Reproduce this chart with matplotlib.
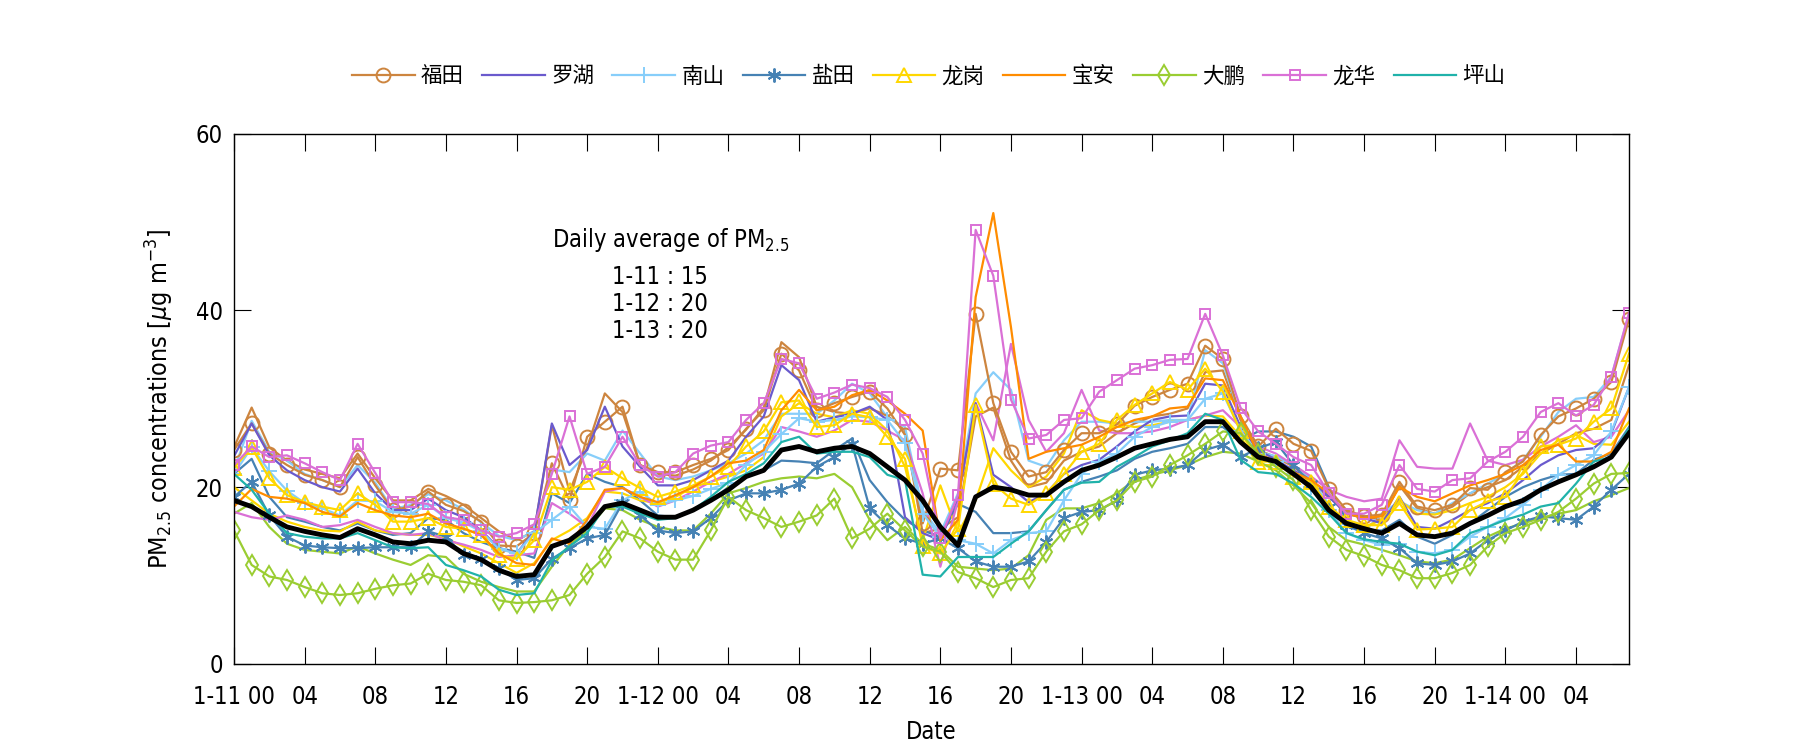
import numpy as np
import matplotlib
matplotlib.use('Agg')
import matplotlib.pyplot as plt

plt.rcParams['font.family'] = ['DejaVu Sans', 'Noto Sans CJK SC']
plt.rcParams['font.stretch'] = 'condensed'
plt.rcParams['mathtext.fontset'] = 'custom'
plt.rcParams['mathtext.rm'] = 'DejaVu Sans:stretch=condensed'
plt.rcParams['mathtext.it'] = 'DejaVu Sans:italic:stretch=condensed'
plt.rcParams['font.size'] = 16

hours = np.arange(80)
tick_pos = np.arange(0, 80, 4)
tick_labels = ['1-11 00', '04', '08', '12', '16', '20',
               '1-12 00', '04', '08', '12', '16', '20',
               '1-13 00', '04', '08', '12', '16', '20',
               '1-14 00', '04']

names = ['福田', '罗湖', '南山', '盐田', '龙岗', '宝安', '大鹏', '龙华', '坪山']

# station series (legend entries)
futian = [24.2, 27.2, 23.8, 22.5, 21.4, 20.8, 20.0, 23.4, 20.2, 17.4, 17.8, 19.5, 18.0, 17.3, 16.1, 13.4, 13.3,
          14.8, 22.7, 18.5, 25.7, 27.4, 29.1, 22.5, 21.7, 21.7, 22.5, 23.2, 24.2, 26.6, 28.7, 35.1, 33.2,
          28.7, 29.5, 30.2, 30.8, 28.9, 25.9, 15.9, 22.1, 21.9, 39.6, 29.5, 24.0, 21.2, 21.7, 24.2, 26.1,
          26.1, 27.1, 29.2, 30.2, 31.0, 31.7, 36.0, 34.5, 28.0, 24.6, 26.6, 24.9, 24.1, 19.8, 17.4, 16.7,
          16.9, 20.6, 17.8, 17.4, 18.0, 19.9, 19.7, 21.7, 22.9, 25.9, 28.0, 28.9, 30.0, 31.9, 39.0]
luohu = [23.5, 27.2, 23.6, 21.9, 20.8, 20.0, 19.5, 22.1, 19.3, 17.4, 17.4, 18.7, 17.4, 16.6, 15.1, 13.1, 12.5,
         15.0, 27.2, 22.5, 24.2, 29.1, 24.6, 22.3, 20.2, 20.2, 20.8, 21.9, 23.0, 25.7, 28.0, 33.8, 32.1,
         27.4, 27.9, 28.3, 29.1, 27.6, 16.6, 14.8, 14.0, 18.9, 29.5, 21.4, 20.0, 18.3, 19.3, 21.5, 22.5,
         23.1, 24.6, 26.3, 27.6, 28.0, 28.1, 31.7, 31.5, 26.8, 24.2, 23.1, 21.9, 20.8, 18.9, 17.0, 16.5,
         15.9, 18.9, 15.5, 15.3, 16.3, 17.4, 18.2, 19.3, 20.8, 22.5, 23.6, 24.2, 24.4, 26.1, 31.3]
nanshan = [21.5, 24.5, 21.8, 19.6, 18.2, 17.6, 16.8, 18.5, 18.4, 17.2, 17.0, 18.0, 16.5, 16.0, 15.0, 13.0, 12.5,
           14.8, 16.3, 17.8, 15.5, 15.3, 18.5, 19.5, 18.0, 18.5, 19.0, 19.8, 20.5, 22.5, 24.0, 26.0, 27.8,
           27.4, 27.6, 28.0, 27.9, 27.6, 25.0, 17.0, 14.4, 14.0, 13.6, 12.5, 14.0, 14.8, 15.0, 18.5, 21.5,
           22.9, 23.8, 25.7, 26.8, 27.4, 27.6, 30.0, 30.6, 26.4, 23.8, 22.9, 21.5, 20.0, 17.4, 14.8, 14.0,
           13.5, 13.6, 12.7, 12.5, 12.9, 14.4, 15.5, 16.5, 18.0, 19.7, 21.4, 22.5, 23.6, 26.3, 31.3]
yantian = [18.9, 20.6, 16.8, 14.4, 13.4, 13.2, 13.1, 13.1, 13.2, 13.2, 13.2, 15.0, 14.4, 12.3, 11.9, 10.8, 9.5,
           9.7, 11.9, 13.1, 14.2, 14.6, 18.2, 16.8, 15.1, 14.8, 15.0, 16.5, 18.5, 19.3, 19.3, 19.7, 20.4,
           22.3, 23.4, 24.9, 17.6, 15.7, 14.2, 13.6, 14.2, 13.1, 11.6, 11.0, 11.0, 11.6, 13.8, 16.5, 17.2,
           17.4, 18.5, 21.4, 21.9, 22.1, 22.5, 24.2, 24.8, 23.4, 24.4, 25.1, 22.5, 20.4, 17.8, 15.7, 14.8,
           14.2, 13.1, 11.4, 11.2, 11.6, 12.5, 14.0, 15.1, 16.1, 16.7, 16.5, 16.3, 17.8, 19.7, 21.5]
longgang = [22.2, 24.5, 21.0, 19.1, 18.3, 17.8, 17.4, 19.3, 18.0, 16.1, 16.1, 16.5, 15.5, 15.3, 14.6, 12.3, 11.9,
            14.0, 20.0, 19.7, 20.6, 22.3, 21.0, 19.9, 18.9, 19.5, 20.2, 21.2, 22.3, 24.6, 26.3, 29.6, 29.8,
            26.8, 27.0, 28.3, 27.9, 25.7, 23.2, 13.3, 12.5, 15.3, 29.3, 20.4, 18.7, 18.0, 19.3, 21.5, 24.0,
            24.9, 27.6, 29.3, 30.6, 31.9, 31.0, 33.4, 30.8, 26.3, 22.9, 22.9, 21.2, 20.6, 17.8, 16.3, 15.7,
            15.7, 18.2, 15.2, 15.3, 15.5, 17.4, 18.4, 18.9, 21.7, 24.6, 24.8, 25.5, 27.4, 28.9, 35.1]
baoan = [17.8, 19.8, 18.9, 18.7, 18.2, 17.2, 16.7, 18.2, 17.4, 16.8, 16.6, 17.0, 15.9, 15.3, 14.6, 12.5, 11.4,
         11.2, 14.2, 13.6, 16.3, 19.7, 19.9, 18.9, 18.3, 19.1, 20.0, 21.2, 22.7, 23.0, 24.2, 28.7, 31.0,
         28.7, 29.1, 30.4, 31.0, 29.8, 28.3, 26.4, 14.0, 16.3, 41.5, 51.0, 38.1, 23.2, 24.0, 24.4, 24.8,
         25.7, 26.8, 27.6, 28.0, 28.9, 29.1, 32.3, 32.1, 28.0, 23.8, 22.9, 21.7, 20.8, 19.3, 17.0, 16.5,
         16.7, 20.0, 18.9, 18.4, 19.3, 20.2, 20.8, 21.5, 22.5, 24.2, 24.8, 22.9, 22.9, 24.0, 28.9]
dapeng = [15.1, 11.2, 9.9, 9.5, 8.7, 8.0, 7.8, 8.0, 8.5, 8.9, 9.1, 10.2, 9.5, 9.3, 8.9, 7.2, 6.9,
          7.0, 7.2, 7.8, 10.2, 12.1, 15.0, 14.2, 12.7, 11.8, 11.8, 15.1, 18.9, 17.4, 16.5, 15.5, 16.1,
          16.8, 18.7, 14.2, 15.3, 17.0, 15.1, 13.3, 12.7, 10.4, 9.7, 8.7, 9.5, 9.7, 12.7, 15.0, 15.8,
          17.4, 18.5, 20.6, 21.2, 22.5, 23.6, 24.9, 26.3, 26.1, 23.8, 22.3, 20.8, 17.4, 14.4, 12.9, 12.2,
          11.2, 10.6, 9.7, 9.7, 10.3, 11.2, 13.3, 14.8, 15.5, 16.3, 17.2, 18.7, 20.4, 21.5, 21.6]
longhua = [22.5, 24.6, 23.4, 23.6, 22.7, 21.7, 20.8, 24.9, 21.6, 18.3, 18.3, 18.1, 16.6, 16.3, 15.1, 14.4, 14.8,
           15.8, 21.5, 28.0, 21.5, 22.3, 25.7, 22.5, 21.2, 21.7, 23.8, 24.7, 25.1, 27.6, 29.5, 34.5, 34.0,
           30.0, 30.7, 31.6, 31.2, 30.2, 27.6, 23.8, 14.2, 19.1, 49.1, 43.9, 29.9, 25.5, 25.9, 27.6, 27.8,
           30.8, 32.1, 33.4, 33.8, 34.4, 34.5, 39.6, 34.9, 29.0, 26.3, 24.9, 23.4, 22.5, 19.3, 17.0, 17.0,
           18.0, 22.5, 19.8, 19.5, 20.8, 21.0, 22.9, 24.0, 25.7, 28.5, 29.5, 28.1, 29.3, 32.5, 39.7]
pingshan = [21.5, 19.7, 17.0, 14.8, 14.4, 14.2, 14.2, 14.8, 14.0, 13.2, 13.1, 13.2, 11.2, 10.6, 9.9, 8.4, 7.8,
            8.0, 11.7, 13.3, 14.8, 17.8, 17.8, 17.0, 16.3, 16.5, 17.4, 18.9, 20.6, 21.5, 22.7, 25.1, 25.7,
            23.8, 24.0, 24.0, 23.4, 21.4, 20.8, 10.1, 9.9, 12.1, 12.1, 12.1, 13.6, 15.0, 17.4, 19.7, 20.5,
            20.6, 22.3, 23.4, 24.6, 25.3, 26.1, 28.3, 27.6, 23.1, 21.7, 21.5, 20.4, 18.9, 17.0, 14.8, 14.1,
            13.8, 13.6, 12.7, 12.3, 12.9, 14.8, 15.5, 16.3, 16.9, 17.8, 18.2, 20.4, 22.9, 23.4, 26.6]

# second (unmarked) lines
futian_2 = [24.5, 29.0, 24.5, 23.0, 22.0, 21.5, 21.0, 23.8, 21.0, 18.5, 18.5, 19.8, 19.0, 18.0, 16.5, 15.0, 14.0,
            15.0, 27.0, 19.5, 24.5, 30.6, 28.5, 22.5, 21.5, 21.3, 22.0, 23.0, 24.5, 26.5, 29.0, 36.4, 34.7,
            29.1, 28.5, 28.3, 28.9, 28.1, 26.4, 14.8, 15.3, 16.6, 28.0, 29.0, 23.0, 20.0, 20.5, 23.0, 24.0,
            24.6, 26.1, 27.2, 28.0, 28.3, 28.9, 33.0, 33.2, 27.6, 24.2, 23.4, 22.3, 20.8, 18.9, 17.2, 16.7,
            16.3, 20.2, 17.6, 17.0, 17.8, 19.3, 20.0, 20.8, 22.3, 23.8, 24.9, 26.1, 26.6, 27.6, 33.8]
nanshan_2 = [22.0, 27.5, 24.0, 23.0, 21.5, 20.8, 20.0, 22.5, 20.5, 17.5, 18.0, 19.2, 18.5, 17.5, 16.0, 14.5, 14.0,
             15.0, 22.0, 21.7, 23.8, 23.0, 26.4, 23.8, 21.2, 20.8, 21.2, 21.9, 22.7, 23.8, 25.3, 28.3, 28.3,
             28.3, 29.8, 31.7, 30.6, 27.9, 26.8, 17.4, 14.8, 19.3, 30.6, 33.0, 31.0, 23.0, 22.3, 25.3, 27.4,
             27.4, 27.2, 27.4, 27.4, 27.6, 27.6, 35.5, 34.0, 28.0, 24.0, 23.5, 22.5, 21.0, 18.0, 15.5, 15.0,
             17.0, 18.4, 17.4, 17.0, 18.2, 19.3, 20.4, 21.5, 23.1, 25.7, 28.5, 30.0, 30.2, 32.5, 39.6]
yantian_2 = [21.5, 23.2, 18.9, 16.6, 16.1, 15.5, 15.1, 15.9, 15.1, 14.6, 14.8, 16.5, 16.3, 14.8, 13.8, 13.1, 12.7,
             12.0, 19.3, 18.2, 21.5, 20.6, 20.0, 18.5, 16.8, 16.6, 17.4, 18.5, 20.0, 21.2, 21.9, 23.0, 22.9,
             22.7, 24.2, 25.5, 20.8, 18.3, 16.3, 15.1, 14.4, 18.1, 17.2, 14.8, 14.8, 15.0, 17.4, 19.7, 20.6,
             21.2, 21.9, 23.2, 24.0, 24.4, 24.9, 26.8, 26.8, 25.3, 26.3, 26.3, 25.7, 24.6, 20.0, 16.3, 15.1,
             15.1, 16.3, 14.4, 13.6, 14.6, 15.9, 17.4, 18.9, 20.0, 20.8, 21.4, 21.5, 23.1, 23.8, 26.8]
longgang_2 = [20.0, 18.5, 17.0, 16.1, 15.5, 15.1, 15.0, 16.1, 15.1, 14.8, 14.6, 14.6, 14.2, 13.3, 12.5, 11.4, 10.3,
              11.4, 14.0, 15.1, 16.5, 19.5, 19.3, 18.5, 18.2, 18.9, 20.0, 20.6, 21.2, 21.9, 23.4, 28.0, 29.5,
              28.3, 27.9, 28.7, 28.3, 26.4, 22.3, 14.0, 20.2, 14.8, 18.5, 24.4, 21.9, 20.0, 21.2, 23.8, 28.7,
              27.6, 27.2, 26.8, 27.0, 27.4, 27.6, 28.1, 28.0, 25.7, 22.5, 22.5, 21.7, 20.4, 17.4, 15.9, 15.5,
              16.3, 18.5, 17.0, 16.9, 17.4, 18.2, 18.9, 20.0, 21.5, 23.8, 25.3, 25.9, 24.9, 24.8, 27.4]
dapeng_2 = [17.0, 18.2, 15.5, 13.6, 12.9, 12.7, 12.5, 13.3, 12.5, 11.8, 11.2, 12.3, 12.1, 10.2, 9.3, 8.7, 8.2,
            8.2, 11.0, 13.5, 15.1, 17.6, 17.4, 16.3, 15.5, 15.1, 15.1, 17.0, 19.3, 19.9, 20.6, 21.0, 21.2,
            21.0, 21.5, 20.0, 16.3, 14.0, 15.5, 13.6, 12.9, 11.0, 10.8, 10.6, 10.8, 12.3, 16.3, 17.6, 17.6,
            18.2, 19.3, 20.8, 21.4, 21.9, 22.5, 23.4, 24.0, 23.8, 22.9, 21.9, 20.2, 18.2, 15.5, 14.0, 13.5,
            12.9, 12.3, 11.6, 11.4, 11.8, 13.1, 14.4, 15.3, 15.9, 16.5, 17.0, 17.4, 18.4, 19.1, 19.9]
longhua_2 = [17.2, 16.6, 16.3, 16.8, 16.3, 15.5, 15.7, 16.3, 15.5, 14.8, 14.6, 14.8, 14.0, 13.5, 12.9, 12.1, 12.3,
             12.5, 18.2, 17.0, 15.5, 19.5, 19.9, 18.9, 17.8, 18.5, 19.5, 20.6, 21.5, 22.7, 23.8, 26.8, 26.3,
             25.7, 26.4, 27.6, 27.4, 26.4, 25.3, 19.3, 11.0, 18.5, 29.5, 25.3, 36.2, 27.6, 24.0, 26.1, 31.0,
             26.4, 26.1, 26.1, 26.3, 26.8, 27.6, 28.1, 28.7, 26.8, 24.6, 23.8, 22.5, 21.2, 19.7, 18.9, 18.4,
             18.7, 25.3, 22.3, 22.1, 22.1, 27.2, 23.0, 22.5, 23.1, 24.6, 25.7, 27.0, 25.1, 25.7, 28.7]

average = [18.5, 17.8, 16.6, 15.5, 15.0, 14.6, 14.3, 15.3, 14.6, 13.8, 13.6, 14.0, 13.8, 12.5, 11.8, 10.6, 9.9,
           10.1, 13.3, 14.0, 15.5, 17.8, 18.2, 17.4, 16.6, 16.6, 17.4, 18.5, 19.7, 21.2, 21.9, 24.2, 24.6,
           24.0, 24.4, 24.6, 23.8, 22.3, 20.8, 18.5, 15.5, 13.4, 18.9, 20.0, 19.7, 19.1, 19.1, 20.6, 21.9,
           22.5, 23.4, 24.4, 24.9, 25.4, 25.7, 27.4, 27.4, 25.1, 23.4, 22.9, 21.5, 20.0, 17.4, 15.9, 15.3,
           14.8, 15.9, 14.6, 14.4, 14.8, 15.9, 16.8, 17.8, 18.5, 19.7, 20.6, 21.4, 22.3, 23.4, 26.1]

daily_avg_labels = ['1-11 : 15', '1-12 : 20', '1-13 : 20']

colors = ['#CD853F', '#6A5ACD', '#87CEFA', '#4682B4', '#FFD700',
          '#FF8C00', '#9ACD32', '#DA70D6', '#20B2AA']
asterisk = (6, 2, 0)
markers = ['o', None, '+', asterisk, '^', None, 'd', 's', None]
msizes = [10, 0, 11, 10, 10, 0, 10, 7, 0]
series = [futian, luohu, nanshan, yantian, longgang, baoan, dapeng, longhua, pingshan]
extra = {0: futian_2, 2: nanshan_2, 3: yantian_2, 4: longgang_2, 6: dapeng_2, 7: longhua_2}

fig = plt.figure(figsize=(18, 7.5), dpi=100)
ax = fig.add_axes([0.13, 0.1147, 0.775, 0.7073])

for i, vals in extra.items():
    ax.plot(hours, vals, color=colors[i], lw=1.6)

handles = []
for i, vals in enumerate(series):
    h, = ax.plot(hours, vals, color=colors[i], lw=1.6, marker=markers[i],
                 markersize=msizes[i], markerfacecolor='none', markeredgewidth=1.4,
                 label=names[i])
    handles.append(h)

ax.plot(hours, average, color='black', lw=3.5)

ax.set_xlim(0, 79)
ax.set_ylim(0, 60)
ax.set_yticks([0, 20, 40, 60])
ax.set_xticks(tick_pos)
ax.set_xticklabels(tick_labels)
ax.tick_params(direction='in', length=12, top=True, right=True, labelsize=17)
ax.tick_params(axis='x', pad=15)
ax.tick_params(axis='y', pad=8)
for s in ax.spines.values():
    s.set_linewidth(1.0)

ax.set_xlabel('Date', fontsize=17, labelpad=8)
ax.set_ylabel(r'PM$_{2.5}$ concentrations [$\mu$g m$^{-3}$]', fontsize=18, labelpad=14)

ax.text(18.0, 47.9, r'Daily average of PM$_{2.5}$', fontsize=17, va='center', ha='left')
for k, txt in enumerate(daily_avg_labels):
    ax.text(21.4, 43.8 - 3.05 * k, txt, fontsize=17, va='center', ha='left')

fig.legend(handles=handles, loc='center', bbox_to_anchor=(0.516, 0.898), ncol=9,
           frameon=False, handlelength=2.9, columnspacing=0.85, handletextpad=0.3,
           prop={'family': ['Noto Sans CJK SC'], 'size': 15.5})

fig.savefig('out.png', dpi=100)
